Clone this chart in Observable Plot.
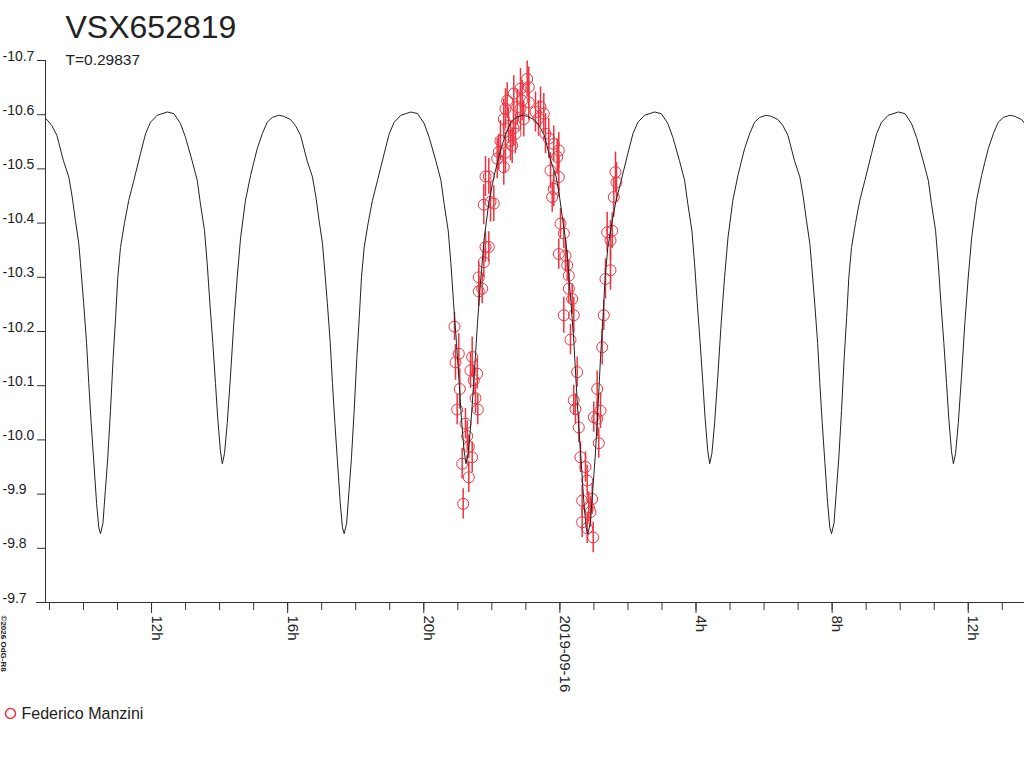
<!DOCTYPE html>
<html>
<head>
<meta charset="utf-8">
<script src="https://cdn.jsdelivr.net/npm/d3@7"></script>
<script src="https://cdn.jsdelivr.net/npm/@observablehq/plot@0.6"></script>
<style>
  html, body { margin: 0; padding: 0; background: #fff; }
  #chart { width: 1024px; height: 768px; }
</style>
</head>
<body>
<div id="chart"></div>
<script>
// ---------- texts ----------
const title = "VSX652819";
const subtitle = "T=0.29837";
const observerName = "Federico Manzini";
const credit = "©2026 OdG-R8";

// ---------- time reference ----------
const refMidnight = "2019-09-16T00:00:00Z";   // hour 0
const periodDays = 0.29837;                    // T
const primaryMinHour = -13.50;                 // primary minimum epoch (hours from refMidnight)
const xStartHour = -15.116;
const xEndHour = 13.653;

// ---------- axis ticks ----------
const yTicks = [-10.7, -10.6, -10.5, -10.4, -10.3, -10.2, -10.1, -10.0, -9.9, -9.8, -9.7];
const yTickLabels = ["-10.7", "-10.6", "-10.5", "-10.4", "-10.3", "-10.2", "-10.1", "-10.0", "-9.9", "-9.8", "-9.7"];
const minorTickHours = [-15, -14, -13, -12, -11, -10, -9, -8, -7, -6, -5, -4, -3, -2, -1,
                        0, 1, 2, 3, 4, 5, 6, 7, 8, 9, 10, 11, 12, 13];
const majorTickHours = [-12, -8, -4, 0, 4, 8, 12];
const majorTickLabels = ["12h", "16h", "20h", "2019-09-16", "4h", "8h", "12h"];

// ---------- model light curve (one cycle, phase from primary minimum) ----------
const curvePhase = [0.000, 0.010, 0.020, 0.030, 0.041, 0.052, 0.062, 0.071, 0.082, 0.098,
                    0.116, 0.137, 0.164, 0.185, 0.205, 0.233, 0.274, 0.301, 0.328, 0.349,
                    0.376, 0.397, 0.410, 0.427, 0.438, 0.449, 0.461, 0.472, 0.481, 0.492,
                    0.500, 0.509, 0.520, 0.533, 0.547, 0.561, 0.575, 0.595, 0.616, 0.629,
                    0.643, 0.664, 0.684, 0.705, 0.732, 0.752, 0.780, 0.800, 0.821, 0.848,
                    0.870, 0.884, 0.897, 0.911, 0.918, 0.931, 0.943, 0.952, 0.962, 0.973,
                    0.984, 0.993];
const curveMag = [-9.827, -9.846, -9.907, -9.968, -10.054, -10.152, -10.226, -10.300, -10.355, -10.399,
                  -10.442, -10.479, -10.528, -10.565, -10.586, -10.599, -10.605, -10.602, -10.584, -10.558,
                  -10.515, -10.479, -10.436, -10.386, -10.325, -10.252, -10.178, -10.104, -10.041, -9.980,
                  -9.956, -9.975, -10.030, -10.115, -10.215, -10.300, -10.373, -10.442, -10.488, -10.512,
                  -10.537, -10.565, -10.586, -10.595, -10.599, -10.597, -10.591, -10.580, -10.562, -10.515,
                  -10.485, -10.448, -10.405, -10.362, -10.325, -10.252, -10.178, -10.104, -10.030, -9.956,
                  -9.883, -9.838];

// ---------- observations (hours from refMidnight, magnitude, error) ----------
const obsHour = [
  -3.097, -2.971, -3.068, -2.942, -3.018, -2.774, -2.724, -2.677, -2.577, -2.871,
  -2.677, -2.842, -2.577, -2.627, -2.430, -2.530, -2.480, -2.413, -2.383, -2.283,
  -2.383, -2.236, -2.186, -2.089, -2.236, -2.039, -1.942, -2.186, -2.089, -1.842,
  -1.795, -1.746, -1.649, -1.599, -1.452, -1.402, -1.305, -1.364, -1.649, -1.599,
  -1.549, -1.355, -1.158, -1.108, -0.961, -0.914, -0.914, -1.158, -1.061, -1.255,
  -1.510, -0.717, -0.570, -0.473, -0.629, -0.423, -0.326, -0.179, -0.032, -0.079,
  -0.276, -0.032, -0.179, -0.226, 0.018, 0.115, -0.032, 0.165, 0.215, 0.262,
  0.262, 0.361, 0.115, 0.408, 0.311, 0.508, 0.408, 0.458, 0.555, 0.605,
  0.752, 0.802, 0.655, 0.949, 0.849, 0.899, 0.655, 0.802, 0.979, 1.096,
  1.193, 0.996, 1.096, 1.143, 1.243, 1.290, 1.340, 1.487, 1.390, 1.537,
  1.487, 1.584, 1.634, 1.663];
const obsMag = [
  -10.209, -10.159, -10.143, -10.094, -10.056, -10.030, -10.007, -9.987, -9.968, -9.956,
  -9.931, -9.882, -10.153, -10.128, -10.122, -10.110, -10.077, -10.056, -10.274, -10.279,
  -10.300, -10.328, -10.356, -10.356, -10.434, -10.439, -10.436, -10.486, -10.486, -10.519,
  -10.531, -10.552, -10.503, -10.530, -10.552, -10.543, -10.565, -10.575, -10.592, -10.611,
  -10.626, -10.639, -10.648, -10.626, -10.666, -10.651, -10.623, -10.611, -10.592, -10.614,
  -10.580, -10.605, -10.614, -10.602, -10.593, -10.565, -10.556, -10.546, -10.534, -10.522,
  -10.497, -10.485, -10.463, -10.448, -10.399, -10.381, -10.343, -10.340, -10.322, -10.303,
  -10.279, -10.260, -10.230, -10.230, -10.185, -10.125, -10.073, -10.057, -10.023, -9.968,
  -9.950, -9.925, -9.888, -9.891, -9.876, -9.867, -9.848, -9.837, -9.820, -10.094,
  -10.054, -10.042, -10.039, -9.994, -10.171, -10.230, -10.297, -10.313, -10.383, -10.386,
  -10.368, -10.448, -10.494, -10.475];
const obsErr = [
  0.026, 0.037, 0.033, 0.037, 0.028, 0.028, 0.028, 0.022, 0.028, 0.028,
  0.028, 0.028, 0.037, 0.033, 0.028, 0.028, 0.028, 0.028, 0.028, 0.028,
  0.028, 0.028, 0.028, 0.028, 0.037, 0.037, 0.033, 0.037, 0.033, 0.037,
  0.033, 0.037, 0.033, 0.037, 0.037, 0.033, 0.037, 0.033, 0.037, 0.037,
  0.033, 0.033, 0.037, 0.037, 0.033, 0.037, 0.033, 0.041, 0.033, 0.033,
  0.033, 0.037, 0.037, 0.037, 0.033, 0.037, 0.037, 0.033, 0.033, 0.033,
  0.033, 0.037, 0.033, 0.028, 0.028, 0.028, 0.028, 0.028, 0.028, 0.028,
  0.028, 0.028, 0.033, 0.033, 0.028, 0.028, 0.028, 0.028, 0.028, 0.028,
  0.028, 0.028, 0.028, 0.028, 0.028, 0.028, 0.028, 0.028, 0.028, 0.033,
  0.033, 0.028, 0.033, 0.028, 0.033, 0.028, 0.037, 0.037, 0.037, 0.033,
  0.037, 0.037, 0.037, 0.037];

// ---------- build tables ----------
const t0 = Date.parse(refMidnight);
const toDate = h => new Date(t0 + h * 3600e3);
const periodHours = periodDays * 24;

const obs = obsHour.map((h, i) => ({
  t: toDate(h), mag: obsMag[i], lo: obsMag[i] - obsErr[i], hi: obsMag[i] + obsErr[i]
}));

const curve = [];
const kStart = Math.floor((xStartHour - primaryMinHour) / periodHours) - 1;
const kEnd = Math.ceil((xEndHour - primaryMinHour) / periodHours) + 1;
for (let k = kStart; k <= kEnd; k++) {
  curvePhase.forEach((p, i) => {
    curve.push({ t: toDate(primaryMinHour + (k + p) * periodHours), mag: curveMag[i] });
  });
}

const red = "#ee3340";
const ink = "#222";

const chart = Plot.plot({
  width: 1024,
  height: 768,
  marginTop: 60,
  marginBottom: 166,
  marginLeft: 45,
  marginRight: 0,
  style: { fontFamily: "'Liberation Sans', Arial, sans-serif", color: ink, background: "#fff" },
  x: { type: "utc", domain: [toDate(xStartHour), toDate(xEndHour)] },
  y: { domain: [-9.7, -10.7] },
  marks: [
    // axes lines
    Plot.ruleX([toDate(xStartHour)], { stroke: "#333" }),
    Plot.ruleY([-9.7], { stroke: "#333", insetLeft: -9 }),
    // y ticks + labels
    Plot.axisY({ ticks: yTicks, tickSize: 8, tickFormat: () => "", label: null, stroke: "#333" }),
    Plot.text(yTicks, {
      y: d => d, text: (d, i) => yTickLabels[i], frameAnchor: "left",
      textAnchor: "start", lineAnchor: "bottom", dx: -43, fontSize: 14, fill: ink
    }),
    // x ticks + labels
    Plot.axisX({ ticks: minorTickHours.map(toDate), tickSize: 8, tickFormat: () => "", label: null, stroke: "#333" }),
    Plot.axisX({ ticks: majorTickHours.map(toDate), tickSize: 11, tickFormat: () => "", label: null, stroke: "#333" }),
    Plot.text(majorTickHours, {
      x: d => toDate(d), text: (d, i) => majorTickLabels[i], frameAnchor: "bottom",
      rotate: 90, textAnchor: "start", lineAnchor: "bottom", dy: 13, fontSize: 15, fill: ink
    }),
    // observations
    Plot.ruleX(obs, { x: "t", y1: "lo", y2: "hi", stroke: red, strokeWidth: 1.5 }),
    Plot.dot(obs, { x: "t", y: "mag", r: 5.5, stroke: red, fill: "none", strokeWidth: 1 }),
    // model curve
    Plot.line(curve, { x: "t", y: "mag", stroke: ink, strokeWidth: 1, clip: true }),
    // title / subtitle
    Plot.text([title], {
      text: d => d, frameAnchor: "top-left", dx: 20, dy: -23,
      textAnchor: "start", lineAnchor: "bottom", fontSize: 32, fill: ink
    }),
    Plot.text([subtitle], {
      text: d => d, frameAnchor: "top-left", dx: 20, dy: 4,
      textAnchor: "start", lineAnchor: "bottom", fontSize: 15.5, fill: ink
    }),
    // legend
    Plot.dot([observerName], { frameAnchor: "bottom-left", dx: -35, dy: 111, r: 5, stroke: red, fill: "none" }),
    Plot.text([observerName], {
      text: d => d, frameAnchor: "bottom-left", dx: -24, dy: 111,
      textAnchor: "start", lineAnchor: "middle", fontSize: 16, fill: ink
    }),
    // credit
    Plot.text([credit], {
      text: d => d, frameAnchor: "bottom-left", dx: -44.5, dy: 13, rotate: 90,
      textAnchor: "start", lineAnchor: "bottom", fontSize: 8, fontWeight: "bold", fill: ink
    })
  ]
});

document.getElementById("chart").appendChild(chart);
</script>
</body>
</html>
